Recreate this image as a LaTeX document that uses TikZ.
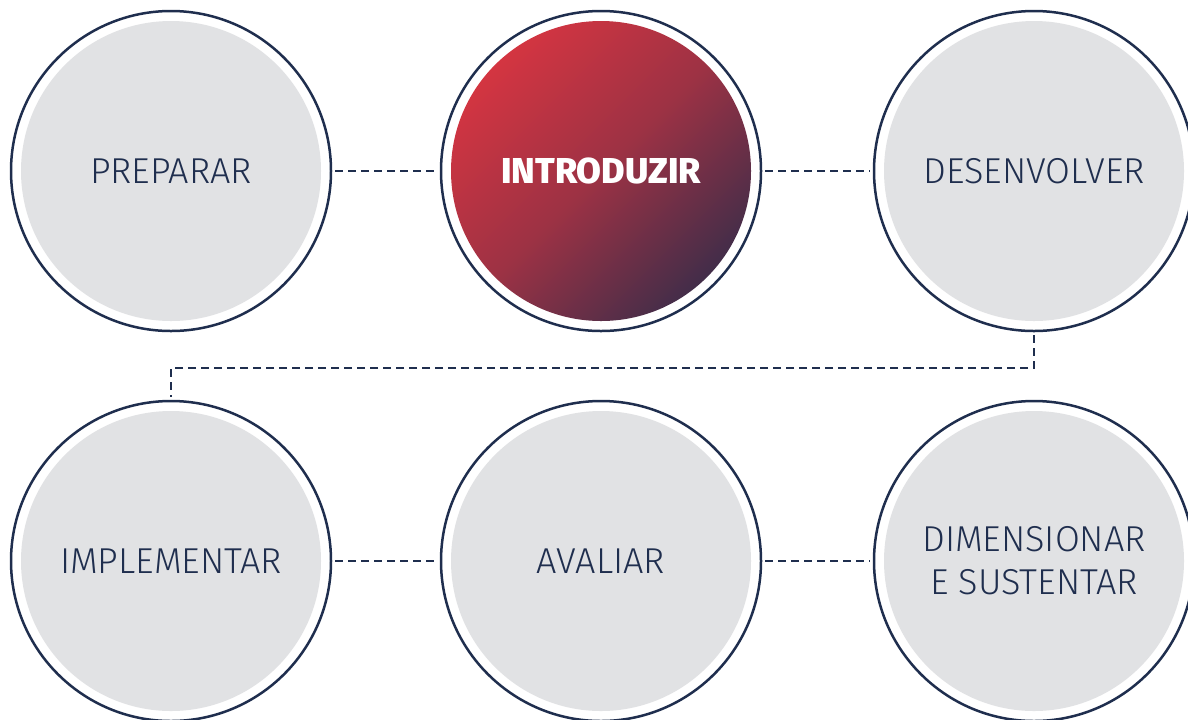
\documentclass[tikz,border=0pt]{standalone}
\usepackage{fontspec}
\setmainfont{Fira Sans}[UprightFont=* Light, BoldFont=* ExtraBold]
\definecolor{navy}{HTML}{1F2E4E}
\definecolor{discgrey}{HTML}{E1E2E4}
\definecolor{introred}{HTML}{EA3640}
\definecolor{intronavy}{HTML}{1E2B4B}
\pgfdeclareverticalshading{introfade}{100bp}{color(0bp)=(intronavy); color(17bp)=(intronavy);
  color(50bp)=(introred!62!intronavy); color(83bp)=(introred); color(100bp)=(introred)}
\tikzset{
  stage/.style={circle, draw=navy, line width=1.25pt, fill=white, minimum size=160pt,
    inner sep=0pt, text=navy, align=center, font=\fontsize{18}{21.5}\selectfont,
    path picture={\fill[discgrey] (path picture bounding box.center) circle (75pt);}},
  current/.style={stage, text=white, font=\fontsize{18}{21.5}\selectfont\bfseries,
    path picture={\shade[shading=introfade, shading angle=45]
      (path picture bounding box.center) circle (75pt);}},
  link/.style={draw=navy, line width=1.2pt, dash pattern=on 4pt off 2.5pt,
    shorten <=1.5pt, shorten >=1.5pt}
}
\begin{document}
\begin{tikzpicture}[x=0.5pt, y=-0.5pt]
    \useasboundingbox (0,0) rectangle (1188,719);

    % Top row
    \node[stage]   (prep)  at (171,171)  {PREPARAR};
    \node[current] (intro) at (601,171)  {INTRODUZIR};
    \node[stage]   (desen) at (1034,171) {DESENVOLVER};

    % Bottom row
    \node[stage] (impl)  at (171,561)  {IMPLEMENTAR};
    \node[stage] (aval)  at (601,561)  {AVALIAR};
    \node[stage] (dimen) at (1034,561) {DIMENSIONAR\\E SUSTENTAR};

    % Links
    \draw[link] (prep) -- (intro);
    \draw[link] (intro) -- (desen);
    \draw[link] (desen.south) -- ++(0,36) -| (impl.north);
    \draw[link] (impl) -- (aval);
    \draw[link] (aval) -- (dimen);
\end{tikzpicture}
\end{document}
